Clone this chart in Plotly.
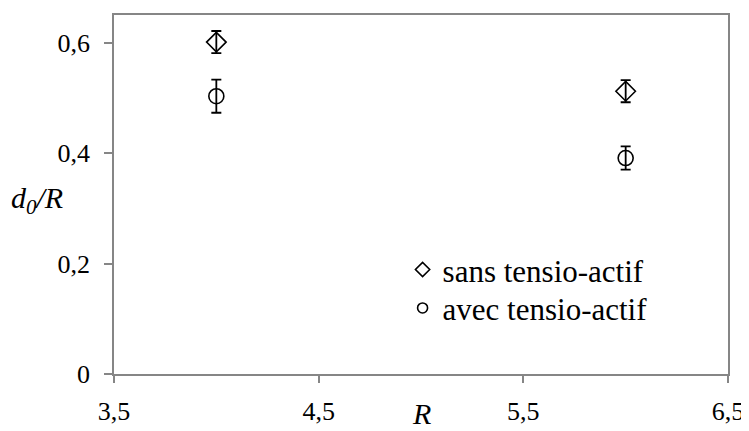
import plotly.graph_objects as go

R_vals = [4.0, 6.0]
sans_vals = [0.601, 0.512]
sans_err = [0.020, 0.020]
avec_vals = [0.503, 0.391]
avec_err = [0.030, 0.021]

series_names = ["sans tensio-actif", "avec tensio-actif"]

x_ticks = [3.5, 4.5, 5.5, 6.5]
x_ticktext = ["3,5", "4,5", "5,5", "6,5"]
y_ticks = [0, 0.2, 0.4, 0.6]
y_ticktext = ["0", "0,2", "0,4", "0,6"]

FONT = "Liberation Serif"
AX = "#868686"

fig = go.Figure()
fig.add_trace(go.Scatter(
    x=R_vals, y=sans_vals, mode="markers", name=series_names[0], showlegend=False,
    marker=dict(symbol="diamond-open", size=15, color="black", line=dict(width=1.6, color="black")),
    error_y=dict(type="data", array=sans_err, visible=True, color="black", thickness=1.8, width=5),
))
fig.add_trace(go.Scatter(
    x=R_vals, y=avec_vals, mode="markers", name=series_names[1], showlegend=False,
    marker=dict(symbol="circle-open", size=15, color="black", line=dict(width=1.6, color="black")),
    error_y=dict(type="data", array=avec_err, visible=True, color="black", thickness=1.8, width=5),
))
# legend entries (smaller symbols, as in the original legend)
fig.add_trace(go.Scatter(
    x=[None], y=[None], mode="markers", name=series_names[0], legend="legend",
    marker=dict(symbol="diamond-open", size=11, color="black", line=dict(width=1.6, color="black")),
))
fig.add_trace(go.Scatter(
    x=[None], y=[None], mode="markers", name=series_names[1], legend="legend2",
    marker=dict(symbol="circle-open", size=10, color="black", line=dict(width=1.6, color="black")),
))

leg_common = dict(xanchor="left", yanchor="middle", bgcolor="rgba(0,0,0,0)", borderwidth=0,
                  font=dict(family=FONT, size=31, color="black"), itemwidth=30)

fig.update_layout(
    width=741, height=423,
    margin=dict(l=106, r=17, t=5, b=55),
    paper_bgcolor="white", plot_bgcolor="white",
    font=dict(family=FONT, size=26, color="black"),
    showlegend=True,
    legend=dict(x=0.470, y=0.290, **leg_common),
    legend2=dict(x=0.470, y=0.183, **leg_common),
    xaxis=dict(range=[3.5, 6.5], tickvals=x_ticks, ticktext=x_ticktext,
               showgrid=False, zeroline=False, showline=True, linecolor=AX, linewidth=1.5,
               mirror=True, ticks="outside", ticklen=7, tickcolor=AX, tickwidth=1.5,
               ticklabelstandoff=6,
               tickfont=dict(family=FONT, size=26, color="black")),
    yaxis=dict(range=[0, 0.65], tickvals=y_ticks, ticktext=y_ticktext,
               showgrid=False, zeroline=False, showline=True, linecolor=AX, linewidth=1.5,
               mirror=True, ticks="outside", ticklen=8, tickcolor=AX, tickwidth=1.5,
               ticklabelstandoff=9,
               tickfont=dict(family=FONT, size=26, color="black")),
)
fig.add_annotation(text="<i>R</i>", xref="paper", yref="paper", x=0.5, y=0,
                   yshift=-39, xanchor="center", yanchor="middle", showarrow=False,
                   font=dict(family=FONT, size=30, color="black"))
fig.add_annotation(text="<i>d<sub>0</sub>/R</i>", xref="paper", yref="paper", x=0, y=0.485,
                   xshift=-77, xanchor="center", yanchor="middle", showarrow=False,
                   font=dict(family=FONT, size=30, color="black"))

fig.write_html("out.html")
